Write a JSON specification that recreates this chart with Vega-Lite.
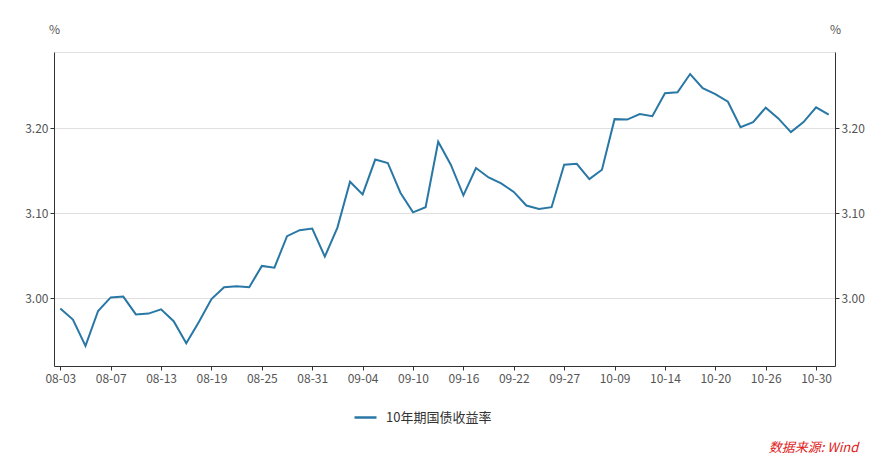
{
  "$schema": "https://vega.github.io/schema/vega-lite/v6.json",
  "autosize": "none",
  "width": 781,
  "height": 314,
  "padding": {"left": 54, "top": 52, "right": 54, "bottom": 98},
  "background": "white",
  "config": {
    "font": "Noto Sans CJK SC",
    "view": {"stroke": "#e0e0e0", "strokeWidth": 1}
  },
  "title": {
    "text": "数据来源: Wind",
    "orient": "bottom",
    "anchor": "end",
    "color": "#e02020",
    "fontStyle": "italic",
    "fontWeight": "normal",
    "fontSize": 13,
    "font": "Noto Sans CJK SC",
    "dx": -6,
    "dy": -23,
    "offset": 40
  },
  "data": {
    "values": [
      {"date": "08-03", "value": 2.988, "series": "10年期国债收益率"},
      {"date": "08-04", "value": 2.975, "series": "10年期国债收益率"},
      {"date": "08-05", "value": 2.944, "series": "10年期国债收益率"},
      {"date": "08-06", "value": 2.985, "series": "10年期国债收益率"},
      {"date": "08-07", "value": 3.001, "series": "10年期国债收益率"},
      {"date": "08-10", "value": 3.002, "series": "10年期国债收益率"},
      {"date": "08-11", "value": 2.981, "series": "10年期国债收益率"},
      {"date": "08-12", "value": 2.982, "series": "10年期国债收益率"},
      {"date": "08-13", "value": 2.987, "series": "10年期国债收益率"},
      {"date": "08-14", "value": 2.973, "series": "10年期国债收益率"},
      {"date": "08-17", "value": 2.947, "series": "10年期国债收益率"},
      {"date": "08-18", "value": 2.972, "series": "10年期国债收益率"},
      {"date": "08-19", "value": 2.999, "series": "10年期国债收益率"},
      {"date": "08-20", "value": 3.013, "series": "10年期国债收益率"},
      {"date": "08-21", "value": 3.014, "series": "10年期国债收益率"},
      {"date": "08-24", "value": 3.013, "series": "10年期国债收益率"},
      {"date": "08-25", "value": 3.038, "series": "10年期国债收益率"},
      {"date": "08-26", "value": 3.036, "series": "10年期国债收益率"},
      {"date": "08-27", "value": 3.073, "series": "10年期国债收益率"},
      {"date": "08-28", "value": 3.080, "series": "10年期国债收益率"},
      {"date": "08-31", "value": 3.082, "series": "10年期国债收益率"},
      {"date": "09-01", "value": 3.049, "series": "10年期国债收益率"},
      {"date": "09-02", "value": 3.083, "series": "10年期国债收益率"},
      {"date": "09-03", "value": 3.137, "series": "10年期国债收益率"},
      {"date": "09-04", "value": 3.122, "series": "10年期国债收益率"},
      {"date": "09-07", "value": 3.163, "series": "10年期国债收益率"},
      {"date": "09-08", "value": 3.159, "series": "10年期国债收益率"},
      {"date": "09-09", "value": 3.124, "series": "10年期国债收益率"},
      {"date": "09-10", "value": 3.101, "series": "10年期国债收益率"},
      {"date": "09-11", "value": 3.107, "series": "10年期国债收益率"},
      {"date": "09-14", "value": 3.184, "series": "10年期国债收益率"},
      {"date": "09-15", "value": 3.157, "series": "10年期国债收益率"},
      {"date": "09-16", "value": 3.121, "series": "10年期国债收益率"},
      {"date": "09-17", "value": 3.153, "series": "10年期国债收益率"},
      {"date": "09-18", "value": 3.142, "series": "10年期国债收益率"},
      {"date": "09-21", "value": 3.135, "series": "10年期国债收益率"},
      {"date": "09-22", "value": 3.125, "series": "10年期国债收益率"},
      {"date": "09-23", "value": 3.109, "series": "10年期国债收益率"},
      {"date": "09-24", "value": 3.105, "series": "10年期国债收益率"},
      {"date": "09-25", "value": 3.107, "series": "10年期国债收益率"},
      {"date": "09-27", "value": 3.157, "series": "10年期国债收益率"},
      {"date": "09-28", "value": 3.158, "series": "10年期国债收益率"},
      {"date": "09-29", "value": 3.140, "series": "10年期国债收益率"},
      {"date": "09-30", "value": 3.151, "series": "10年期国债收益率"},
      {"date": "10-09", "value": 3.2105, "series": "10年期国债收益率"},
      {"date": "10-10", "value": 3.210, "series": "10年期国债收益率"},
      {"date": "10-12", "value": 3.2165, "series": "10年期国债收益率"},
      {"date": "10-13", "value": 3.214, "series": "10年期国债收益率"},
      {"date": "10-14", "value": 3.241, "series": "10年期国债收益率"},
      {"date": "10-15", "value": 3.242, "series": "10年期国债收益率"},
      {"date": "10-16", "value": 3.2635, "series": "10年期国债收益率"},
      {"date": "10-19", "value": 3.247, "series": "10年期国债收益率"},
      {"date": "10-20", "value": 3.240, "series": "10年期国债收益率"},
      {"date": "10-21", "value": 3.231, "series": "10年期国债收益率"},
      {"date": "10-22", "value": 3.201, "series": "10年期国债收益率"},
      {"date": "10-23", "value": 3.207, "series": "10年期国债收益率"},
      {"date": "10-26", "value": 3.224, "series": "10年期国债收益率"},
      {"date": "10-27", "value": 3.2114, "series": "10年期国债收益率"},
      {"date": "10-28", "value": 3.1953, "series": "10年期国债收益率"},
      {"date": "10-29", "value": 3.207, "series": "10年期国债收益率"},
      {"date": "10-30", "value": 3.2243, "series": "10年期国债收益率"},
      {"date": "11-02", "value": 3.2157, "series": "10年期国债收益率"}
    ]
  },
  "layer": [
    {
      "mark": {"type": "line", "strokeWidth": 2, "interpolate": "linear"},
      "encoding": {
        "x": {
          "field": "date",
          "type": "ordinal",
          "sort": null,
          "scale": {"type": "point", "padding": 0.5},
          "axis": {
            "title": null,
            "values": ["08-03", "08-07", "08-13", "08-19", "08-25", "08-31", "09-04", "09-10", "09-16", "09-22", "09-27", "10-09", "10-14", "10-20", "10-26", "10-30"],
            "labelAngle": 0,
            "labelFontSize": 12,
            "labelColor": "#555555",
            "labelFont": "Noto Sans CJK SC",
            "labelPadding": 3,
            "tickSize": 4,
            "tickColor": "#333333",
            "domainColor": "#333333",
            "grid": false
          }
        },
        "y": {
          "field": "value",
          "type": "quantitative",
          "scale": {"domain": [2.9204, 3.2894], "zero": false, "nice": false},
          "axis": {
            "orient": "left",
            "values": [3.0, 3.1, 3.2],
            "format": ".2f",
            "title": "%",
            "titleAngle": 0,
            "titleX": 0,
            "titleY": -19,
            "titleAlign": "center",
            "titleBaseline": "alphabetic",
            "titleFontWeight": "normal",
            "titleFontSize": 12,
            "titleColor": "#555555",
            "labelFontSize": 12,
            "labelColor": "#555555",
            "labelFont": "Noto Sans CJK SC",
            "tickSize": 4,
            "tickColor": "#333333",
            "domainColor": "#333333",
            "grid": true,
            "gridColor": "#e0e0e0"
          }
        },
        "color": {
          "field": "series",
          "type": "nominal",
          "scale": {"range": ["#2877a5"]},
          "legend": {
            "title": null,
            "orient": "none",
            "legendX": 299,
            "legendY": 353,
            "symbolType": "stroke",
            "symbolSize": 484,
            "symbolStrokeWidth": 2.5,
            "labelFontSize": 13,
            "labelColor": "#333333",
            "labelFont": "Noto Sans CJK SC",
            "labelOffset": 8
          }
        }
      }
    },
    {
      "mark": {"type": "line", "strokeWidth": 0, "opacity": 0},
      "encoding": {
        "x": {"field": "date", "type": "ordinal", "sort": null},
        "y": {
          "field": "value",
          "type": "quantitative",
          "scale": {"domain": [2.9204, 3.2894], "zero": false, "nice": false},
          "axis": {
            "orient": "right",
            "values": [3.0, 3.1, 3.2],
            "format": ".2f",
            "title": "%",
            "titleAngle": 0,
            "titleX": 0,
            "titleY": -19,
            "titleAlign": "center",
            "titleBaseline": "alphabetic",
            "titleFontWeight": "normal",
            "titleFontSize": 12,
            "titleColor": "#555555",
            "labelFontSize": 12,
            "labelColor": "#555555",
            "labelFont": "Noto Sans CJK SC",
            "tickSize": 4,
            "tickColor": "#333333",
            "domainColor": "#333333",
            "grid": false
          }
        }
      }
    }
  ],
  "resolve": {"scale": {"y": "independent"}}
}
